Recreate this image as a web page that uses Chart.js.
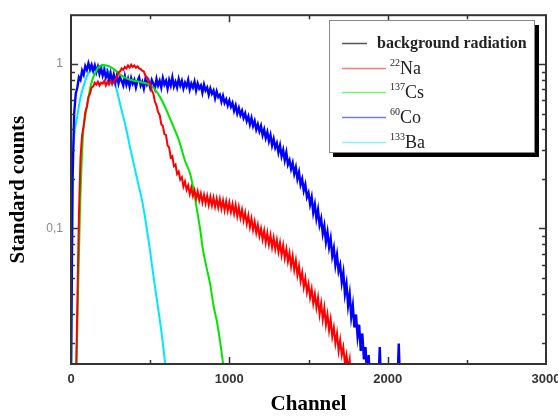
<!DOCTYPE html>
<html>
<head>
<meta charset="utf-8">
<script src="https://cdn.jsdelivr.net/npm/chart.js@4.4.1/dist/chart.umd.min.js"></script>
<style>
  html, body { margin: 0; padding: 0; background: #fff; }
  #myChart { display: block; }
</style>
</head>
<body>
<canvas id="myChart" width="558" height="419"></canvas>
<script>
// channel grid shared by the two noisy spectra (Co-60, Na-22), every 10 channels
const CHANNELS = [
  0, 10, 20, 30, 40, 50, 60, 70, 80, 90, 100, 110, 120, 130, 140, 150, 160, 170, 180, 190,
  200, 210, 220, 230, 240, 250, 260, 270, 280, 290, 300, 310, 320, 330, 340, 350, 360, 370, 380, 390,
  400, 410, 420, 430, 440, 450, 460, 470, 480, 490, 500, 510, 520, 530, 540, 550, 560, 570, 580, 590,
  600, 610, 620, 630, 640, 650, 660, 670, 680, 690, 700, 710, 720, 730, 740, 750, 760, 770, 780, 790,
  800, 810, 820, 830, 840, 850, 860, 870, 880, 890, 900, 910, 920, 930, 940, 950, 960, 970, 980, 990,
  1000, 1010, 1020, 1030, 1040, 1050, 1060, 1070, 1080, 1090, 1100, 1110, 1120, 1130, 1140, 1150, 1160, 1170, 1180, 1190,
  1200, 1210, 1220, 1230, 1240, 1250, 1260, 1270, 1280, 1290, 1300, 1310, 1320, 1330, 1340, 1350, 1360, 1370, 1380, 1390,
  1400, 1410, 1420, 1430, 1440, 1450, 1460, 1470, 1480, 1490, 1500, 1510, 1520, 1530, 1540, 1550, 1560, 1570, 1580, 1590,
  1600, 1610, 1620, 1630, 1640, 1650, 1660, 1670, 1680, 1690, 1700, 1710, 1720, 1730, 1740, 1750, 1760, 1770, 1780, 1790,
  1800, 1810, 1820, 1830, 1840, 1850, 1860, 1870, 1880, 1890, 1900, 1910, 1920, 1930, 1940, 1950, 1960, 1970, 1980, 1990,
  2000, 2010, 2020, 2030, 2040, 2050, 2060, 2070, 2080, 2090, 2100
];

const CO60 = [
  0.012, 0.20, 0.50, 0.66, 0.72, 0.83, 0.80, 0.91, 0.86, 0.97,
  0.92, 1.01, 0.93, 0.99, 0.91, 0.98, 0.89, 0.96, 0.87, 0.94,
  0.85, 0.92, 0.83, 0.89, 0.80, 0.88, 0.78, 0.86, 0.77, 0.85,
  0.76, 0.83, 0.79, 0.74, 0.84, 0.75, 0.81, 0.73, 0.82, 0.76,
  0.80, 0.72, 0.79, 0.83, 0.74, 0.78, 0.71, 0.81, 0.75, 0.79,
  0.72, 0.80, 0.76, 0.71, 0.81, 0.74, 0.79, 0.72, 0.82, 0.75,
  0.79, 0.71, 0.80, 0.74, 0.83, 0.73, 0.78, 0.72, 0.81, 0.74,
  0.79, 0.71, 0.77, 0.73, 0.80, 0.70, 0.76, 0.72, 0.78, 0.69,
  0.76, 0.71, 0.74, 0.67, 0.75, 0.69, 0.72, 0.65, 0.71, 0.66,
  0.69, 0.62, 0.68, 0.63, 0.65, 0.59, 0.64, 0.58, 0.61, 0.56,
  0.60, 0.55, 0.58, 0.52, 0.56, 0.50, 0.54, 0.49, 0.52, 0.47,
  0.50, 0.45, 0.48, 0.43, 0.47, 0.42, 0.45, 0.40, 0.43, 0.39,
  0.42, 0.37, 0.40, 0.355, 0.385, 0.34, 0.37, 0.32, 0.35, 0.31,
  0.33, 0.29, 0.32, 0.275, 0.30, 0.26, 0.29, 0.245, 0.26, 0.23,
  0.25, 0.215, 0.235, 0.20, 0.22, 0.185, 0.20, 0.17, 0.185, 0.155,
  0.165, 0.14, 0.155, 0.125, 0.14, 0.115, 0.13, 0.105, 0.115, 0.093,
  0.104, 0.083, 0.095, 0.077, 0.087, 0.068, 0.076, 0.060, 0.069, 0.055,
  0.060, 0.047, 0.054, 0.040, 0.046, 0.034, 0.040, 0.029, 0.034, 0.025,
  0.030, 0.022, 0.026, 0.018, 0.023, 0.016, 0.019, 0.013, 0.017, 0.011,
  0.013, 0.010, 0.010, 0.010, 0.010, 0.019, 0.010, 0.010, 0.010, 0.010,
  0.010, 0.010, 0.010, 0.010, 0.010, 0.010, 0.010, 0.020, 0.010, 0.010,
  0.010
];

const NA22 = [
  0.01, 0.01, 0.01, 0.01, 0.035, 0.12, 0.27, 0.37, 0.42, 0.51,
  0.55, 0.63, 0.66, 0.72, 0.73, 0.77, 0.75, 0.78, 0.74, 0.77,
  0.76, 0.79, 0.74, 0.78, 0.75, 0.79, 0.76, 0.77, 0.81, 0.83,
  0.89, 0.90, 0.94, 0.92, 0.96, 0.94, 0.98, 0.95, 0.99, 0.96,
  0.98, 0.95, 0.97, 0.94, 0.93, 0.91, 0.90, 0.85, 0.83, 0.78,
  0.76, 0.69, 0.66, 0.59, 0.56, 0.51, 0.49, 0.43, 0.42, 0.375,
  0.37, 0.32, 0.31, 0.27, 0.275, 0.24, 0.245, 0.215, 0.222, 0.198,
  0.205, 0.18, 0.193, 0.172, 0.183, 0.162, 0.177, 0.158, 0.171, 0.152,
  0.168, 0.148, 0.163, 0.144, 0.160, 0.142, 0.158, 0.139, 0.156, 0.138,
  0.154, 0.136, 0.152, 0.134, 0.151, 0.132, 0.148, 0.129, 0.146, 0.128,
  0.144, 0.126, 0.141, 0.123, 0.139, 0.119, 0.135, 0.116, 0.130, 0.112,
  0.125, 0.107, 0.120, 0.102, 0.115, 0.098, 0.110, 0.094, 0.105, 0.090,
  0.100, 0.086, 0.097, 0.082, 0.094, 0.080, 0.091, 0.077, 0.088, 0.075,
  0.085, 0.072, 0.082, 0.069, 0.079, 0.066, 0.075, 0.063, 0.071, 0.059,
  0.068, 0.056, 0.064, 0.052, 0.059, 0.048, 0.054, 0.044, 0.050, 0.041,
  0.046, 0.038, 0.043, 0.035, 0.040, 0.033, 0.038, 0.030, 0.035, 0.028,
  0.033, 0.026, 0.030, 0.024, 0.028, 0.022, 0.025, 0.020, 0.023, 0.018,
  0.021, 0.017, 0.019, 0.015, 0.017, 0.014, 0.016, 0.011, 0.010
];

const CS137_CHANNELS = [30, 40, 57, 76, 90, 107, 122, 139, 155, 170, 185, 202, 230, 259, 290, 322, 360, 404, 445, 486,
  520, 550, 580, 613, 645, 676, 700, 720, 752, 775, 796, 815, 834, 856, 878, 900, 922, 940, 960, 980];
const CS137 = [0.010, 0.025, 0.13, 0.377, 0.48, 0.597, 0.72, 0.823, 0.89, 0.946, 0.975, 0.986, 0.975, 0.946, 0.90, 0.846, 0.81, 0.789, 0.775, 0.757,
  0.72, 0.658, 0.585, 0.498, 0.42, 0.356, 0.30, 0.258, 0.216, 0.17, 0.129, 0.10, 0.0736, 0.058, 0.0465, 0.034, 0.027, 0.021, 0.0152, 0.010];

const BA133_CHANNELS = [0, 6, 13, 25, 38, 55, 70, 90, 107, 130, 152, 183, 215, 240, 259, 278, 295, 310, 325, 341,
  357, 373, 392, 420, 449, 475, 499, 520, 543, 570, 594, 610];
const BA133 = [0.010, 0.074, 0.297, 0.40, 0.47, 0.59, 0.686, 0.79, 0.87, 0.92, 0.946, 0.972, 0.946, 0.89, 0.823, 0.757, 0.66, 0.572, 0.50, 0.433,
  0.37, 0.31, 0.258, 0.195, 0.148, 0.105, 0.0736, 0.052, 0.0366, 0.024, 0.0152, 0.010];

const X_LABELS = [0, 1000, 2000, 3000];
const X_MARKS = [500, 1000, 1500, 2000, 2500];
const Y_LABELS = [0.1, 1];
const Y_MINOR = [0.02, 0.03, 0.04, 0.05, 0.06, 0.07, 0.08, 0.09, 0.2, 0.3, 0.4, 0.5, 0.6, 0.7, 0.8, 0.9];

const LEGEND_ITEMS = [
  { mass: "", name: "background radiation", color: "#555" },
  { mass: "22", name: "Na", color: "rgb(255,120,120)" },
  { mass: "137", name: "Cs", color: "rgb(120,240,120)" },
  { mass: "60", name: "Co", color: "rgb(120,120,255)" },
  { mass: "133", name: "Ba", color: "rgb(130,250,250)" }
];

function toPoints(xs, ys) {
  return ys.map((y, i) => ({ x: xs[i], y: y }));
}

const frameAndTicks = {
  id: "frameAndTicks",
  afterDatasetsDraw(chart) {
    const ctx = chart.ctx;
    const a = chart.chartArea;
    const x = chart.scales.x, y = chart.scales.y;
    ctx.save();
    ctx.strokeStyle = "#333";
    ctx.lineWidth = 1.5;
    ctx.beginPath();
    for (const v of X_MARKS) {
      const px = Math.round(x.getPixelForValue(v)) + 0.5;
      const len = v % 1000 === 0 ? 7 : 4;
      ctx.moveTo(px, a.bottom); ctx.lineTo(px, a.bottom - len);
      ctx.moveTo(px, a.top); ctx.lineTo(px, a.top + len);
    }
    for (const v of Y_LABELS.concat(Y_MINOR)) {
      const py = Math.round(y.getPixelForValue(v)) + 0.5;
      const len = Y_LABELS.includes(v) ? 7 : 4;
      ctx.moveTo(a.left, py); ctx.lineTo(a.left + len, py);
      ctx.moveTo(a.right, py); ctx.lineTo(a.right - len, py);
    }
    ctx.stroke();
    ctx.lineWidth = 2;
    ctx.strokeRect(a.left, a.top, a.right - a.left, a.bottom - a.top);

    // legend box with drop shadow
    ctx.fillStyle = "#000";
    ctx.fillRect(333, 25, 206, 132);
    ctx.fillStyle = "#fff";
    ctx.fillRect(329, 20, 206, 133);
    ctx.strokeStyle = "#888";
    ctx.lineWidth = 1;
    ctx.strokeRect(329.5, 20.5, 205, 132);

    LEGEND_ITEMS.forEach((item, i) => {
      const cy = 43 + i * 24.7;
      ctx.strokeStyle = item.color;
      ctx.lineWidth = 1.5;
      ctx.beginPath();
      ctx.moveTo(342, Math.round(cy) + 0.5);
      ctx.lineTo(i === 0 ? 367 : 386, Math.round(cy) + 0.5);
      ctx.stroke();
      ctx.fillStyle = "#222";
      ctx.textBaseline = "alphabetic";
      ctx.textAlign = "left";
      if (i === 0) {
        ctx.font = "bold 16px 'Liberation Serif', serif";
        ctx.fillText(item.name, 377, cy + 5);
      } else {
        ctx.font = "10px 'Liberation Serif', serif";
        ctx.fillText(item.mass, 390, cy - 2);
        const w = ctx.measureText(item.mass).width;
        ctx.font = "18px 'Liberation Serif', serif";
        ctx.fillText(item.name, 390 + w, cy + 6);
      }
    });
    ctx.restore();
  }
};

new Chart("myChart", {
  type: "line",
  data: {
    datasets: [
      { label: "background radiation", data: [], borderColor: "#000", borderWidth: 1 },
      { label: "22Na", data: toPoints(CHANNELS, NA22), borderColor: "#ff0000", borderWidth: 2 },
      { label: "137Cs", data: toPoints(CS137_CHANNELS, CS137), borderColor: "#00e600", borderWidth: 2, tension: 0.3 },
      { label: "60Co", data: toPoints(CHANNELS, CO60), borderColor: "#0000ff", borderWidth: 2.4 },
      { label: "133Ba", data: toPoints(BA133_CHANNELS, BA133), borderColor: "#00e8ff", borderWidth: 2, tension: 0.3 }
    ]
  },
  options: {
    responsive: false,
    animation: false,
    layout: { padding: { top: 14, right: 12, left: 0, bottom: 0 } },
    elements: { point: { radius: 0 }, line: { tension: 0 } },
    plugins: { legend: { display: false }, tooltip: { enabled: false } },
    scales: {
      x: {
        type: "linear",
        min: 0,
        max: 3000,
        afterBuildTicks: s => { s.ticks = X_LABELS.map(v => ({ value: v })); },
        afterFit: s => { s.height = 55; s.paddingLeft = 0; s.paddingRight = 0; },
        grid: { display: false, drawTicks: false },
        border: { display: false },
        ticks: { padding: 8, maxRotation: 0, color: "#333", callback: v => String(v),
          font: { family: "'Liberation Sans', Arial, sans-serif", size: 13, weight: "bold" } },
        title: { display: true, text: "Channel", color: "#000", padding: { top: 0, bottom: 2 },
          font: { family: "'Liberation Serif', serif", size: 21, weight: "bold" } }
      },
      y: {
        type: "logarithmic",
        min: 0.015,
        max: 1.98,
        afterBuildTicks: s => { s.ticks = Y_LABELS.map(v => ({ value: v })); },
        afterFit: s => { s.width = 71; },
        grid: { display: false, drawTicks: false },
        border: { display: false },
        ticks: { padding: 8, color: "#888", callback: v => (v === 1 ? "1" : "0,1"),
          font: { family: "'Liberation Sans', Arial, sans-serif", size: 12 } },
        title: { display: true, text: "Standard counts", color: "#000", padding: { top: 6, bottom: 0 },
          font: { family: "'Liberation Serif', serif", size: 21, weight: "bold" } }
      }
    }
  },
  plugins: [frameAndTicks]
});
</script>
</body>
</html>
